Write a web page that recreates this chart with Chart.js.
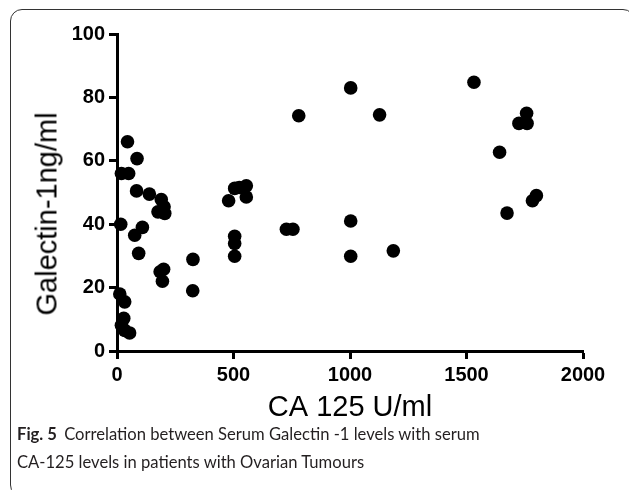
<!DOCTYPE html>
<html>
<head>
<meta charset="utf-8">
<script src="https://cdn.jsdelivr.net/npm/chart.js@4/dist/chart.umd.min.js"></script>
<style>
  html, body { margin: 0; padding: 0; background: #fff; }
  #wrap { position: relative; width: 629px; height: 490px; overflow: hidden; }
  #frame {
    position: absolute; left: 10px; top: 9px; width: 625px; height: 488px;
    border: 1.2px solid #333; border-radius: 12px; box-sizing: border-box;
  }
  #chart { position: absolute; left: 0; top: 0; }
  #ytitle {
    position: absolute; left: 47px; top: 214px;
    transform: translate(-50%, -50%) rotate(-90deg);
    font: 29px "Liberation Sans", Arial, sans-serif; color: #000; white-space: nowrap;
  }
  #caption {
    position: absolute; left: 17px; top: 420px;
    font: 16.6px Lato, "Open Sans", sans-serif; line-height: 28px; color: #231f20;
  }
  #caption b { font-weight: bold; margin-right: 3px; }
</style>
</head>
<body>
<div id="wrap">
  <div id="frame"></div>
  <canvas id="chart" width="629" height="490"></canvas>
  <div id="ytitle">Galectin-1ng/ml</div>
  <div id="caption"><b>Fig. 5</b> Correlation between Serum Galectin -1 levels with serum<br>CA-125 levels in patients with Ovarian Tumours</div>
</div>
<script>
// CA 125 (U/ml) and Galectin-1 (ng/ml)
const ca125 = [
  12, 33, 29, 19, 54, 33,
  16, 19, 50, 45, 86, 84, 139, 190, 202, 176, 205, 109, 76, 93,
  185, 200, 195, 326, 325,
  479, 505, 525, 555, 555, 505, 505, 505,
  727, 755, 780, 1003, 1003, 1003, 1127, 1186,
  1532, 1642, 1674, 1725, 1760, 1758, 1783, 1800
];
const galectin = [
  18, 15.5, 10.3, 8.1, 5.7, 6.5,
  40, 56, 56, 66, 60.7, 50.5, 49.5, 47.8, 45.5, 43.9, 43.4, 39, 36.5, 30.8,
  25, 25.8, 22, 28.9, 19,
  47.4, 51.3, 51.6, 52.1, 48.6, 36.2, 33.9, 29.9,
  38.4, 38.4, 74.2, 83, 41, 29.9, 74.5, 31.6,
  84.8, 62.7, 43.5, 71.8, 71.8, 75, 47.4, 49
];
const xTicks = [0, 500, 1000, 1500, 2000];
const yTicks = [0, 20, 40, 60, 80, 100];

const points = ca125.map((x, i) => ({ x: x, y: galectin[i] }));
const fontFamily = '"Liberation Sans", Arial, sans-serif';

new Chart(document.getElementById('chart').getContext('2d'), {
  type: 'scatter',
  data: {
    datasets: [
      {
        data: points,
        pointRadius: 6.8,
        pointHoverRadius: 6.8,
        backgroundColor: '#000',
        borderWidth: 0,
        clip: false,
      },
    ],
  },
  options: {
    responsive: false,
    animation: false,
    layout: { padding: { top: 34, right: 46, bottom: 59, left: 0 } },
    plugins: { legend: { display: false }, tooltip: { enabled: false } },
    scales: {
      x: {
        type: 'linear',
        min: xTicks[0],
        max: xTicks[xTicks.length - 1],
        afterBuildTicks: (scale) => { scale.ticks = xTicks.map(v => ({ value: v })); },
        afterFit: (scale) => { scale.height = 80; },
        ticks: {
          color: '#000', padding: 4, maxRotation: 0,
          callback: (v) => String(v),
          font: { family: fontFamily, size: 20, weight: 'bold' },
        },
        grid: { drawOnChartArea: false, tickLength: 8, tickWidth: 3, tickColor: '#000' },
        border: { color: '#000', width: 3 },
        title: {
          display: true, text: 'CA 125 U/ml', color: '#000',
          font: { family: fontFamily, size: 29 },
          padding: { top: 0, bottom: 5.6 },
        },
      },
      y: {
        min: yTicks[0],
        max: yTicks[yTicks.length - 1],
        afterBuildTicks: (scale) => { scale.ticks = yTicks.map(v => ({ value: v })); },
        afterFit: (scale) => { scale.width = 117; },
        ticks: {
          color: '#000', padding: 4,
          callback: (v) => String(v),
          font: { family: fontFamily, size: 20, weight: 'bold' },
        },
        grid: { drawOnChartArea: false, tickLength: 8, tickWidth: 3, tickColor: '#000' },
        border: { color: '#000', width: 3 },
      },
    },
  },
});
</script>
</body>
</html>
